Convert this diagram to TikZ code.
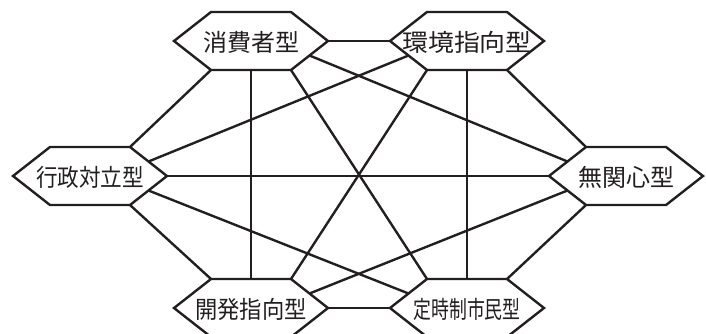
\documentclass[tikz,border=0pt]{standalone}
\usepackage{fontspec}
\usepackage{graphicx}
\newfontfamily\jpfont{Noto Sans CJK JP}
\definecolor{ink}{HTML}{231F20}
\newcommand{\hexagonnode}[5]{% name, cx, cy, hscale, text
  \coordinate (#1-L)   at (#2-77,#3);
  \coordinate (#1-UL)  at (#2-40,#3-29);
  \coordinate (#1-UR)  at (#2+40,#3-29);
  \coordinate (#1-R)   at (#2+77,#3);
  \coordinate (#1-LR)  at (#2+40,#3+29);
  \coordinate (#1-LL)  at (#2-40,#3+29);
  \coordinate (#1-top) at (#2,#3-29);
  \coordinate (#1-bot) at (#2,#3+29);
  \coordinate (#1-ulm) at (#2-58.5,#3-14.5);
  \coordinate (#1-urm) at (#2+58.5,#3-14.5);
  \coordinate (#1-lrm) at (#2+58.5,#3+14.5);
  \coordinate (#1-llm) at (#2-58.5,#3+14.5);
  \draw[hexline] (#1-L) -- (#1-UL) -- (#1-UR) -- (#1-R) -- (#1-LR) -- (#1-LL) -- cycle;
  \node[lbl] (#1) at (#2,#3+1) {\scalebox{#4}[1]{#5}};
}
\begin{document}
\begin{tikzpicture}[x=1pt,y=-1pt,
  link/.style={draw=ink,line width=2.4pt},
  hexline/.style={draw=ink,fill=white,line width=2.4pt},
  lbl/.style={inner sep=0pt,text=ink,font=\jpfont\fontsize{24}{28}\selectfont}]
\clip (0,0) rectangle (706,333);
% hexagons
\hexagonnode{A}{251}{41}{1.0}{消費者型}
\hexagonnode{B}{467}{41}{1.08}{環境指向型}
\hexagonnode{C}{90}{176}{0.9}{行政対立型}
\hexagonnode{D}{626}{176}{1.0}{無関心型}
\hexagonnode{E}{251}{308}{0.93}{開発指向型}
\hexagonnode{F}{467}{308}{0.745}{定時制市民型}
% connectors
\draw[link] (A-R) -- (B-L);
\draw[link] (E-R) -- (F-L);
\draw[link] (C-R) -- (D-L);
\draw[link] (A-bot) -- (E-top);
\draw[link] (B-bot) -- (F-top);
\draw[link] (A-LL) -- (C-UR);
\draw[link] (B-LR) -- (D-UL);
\draw[link] (C-LR) -- (E-UL);
\draw[link] (D-LL) -- (F-UR);
\draw[link] (A-lrm) -- (D-ulm);
\draw[link] (B-llm) -- (C-urm);
\draw[link] (C-lrm) -- (F-ulm);
\draw[link] (D-llm) -- (E-urm);
\draw[link] (A-LR) -- (F-UL);
\draw[link] (B-LL) -- (E-UR);
\end{tikzpicture}
\end{document}
